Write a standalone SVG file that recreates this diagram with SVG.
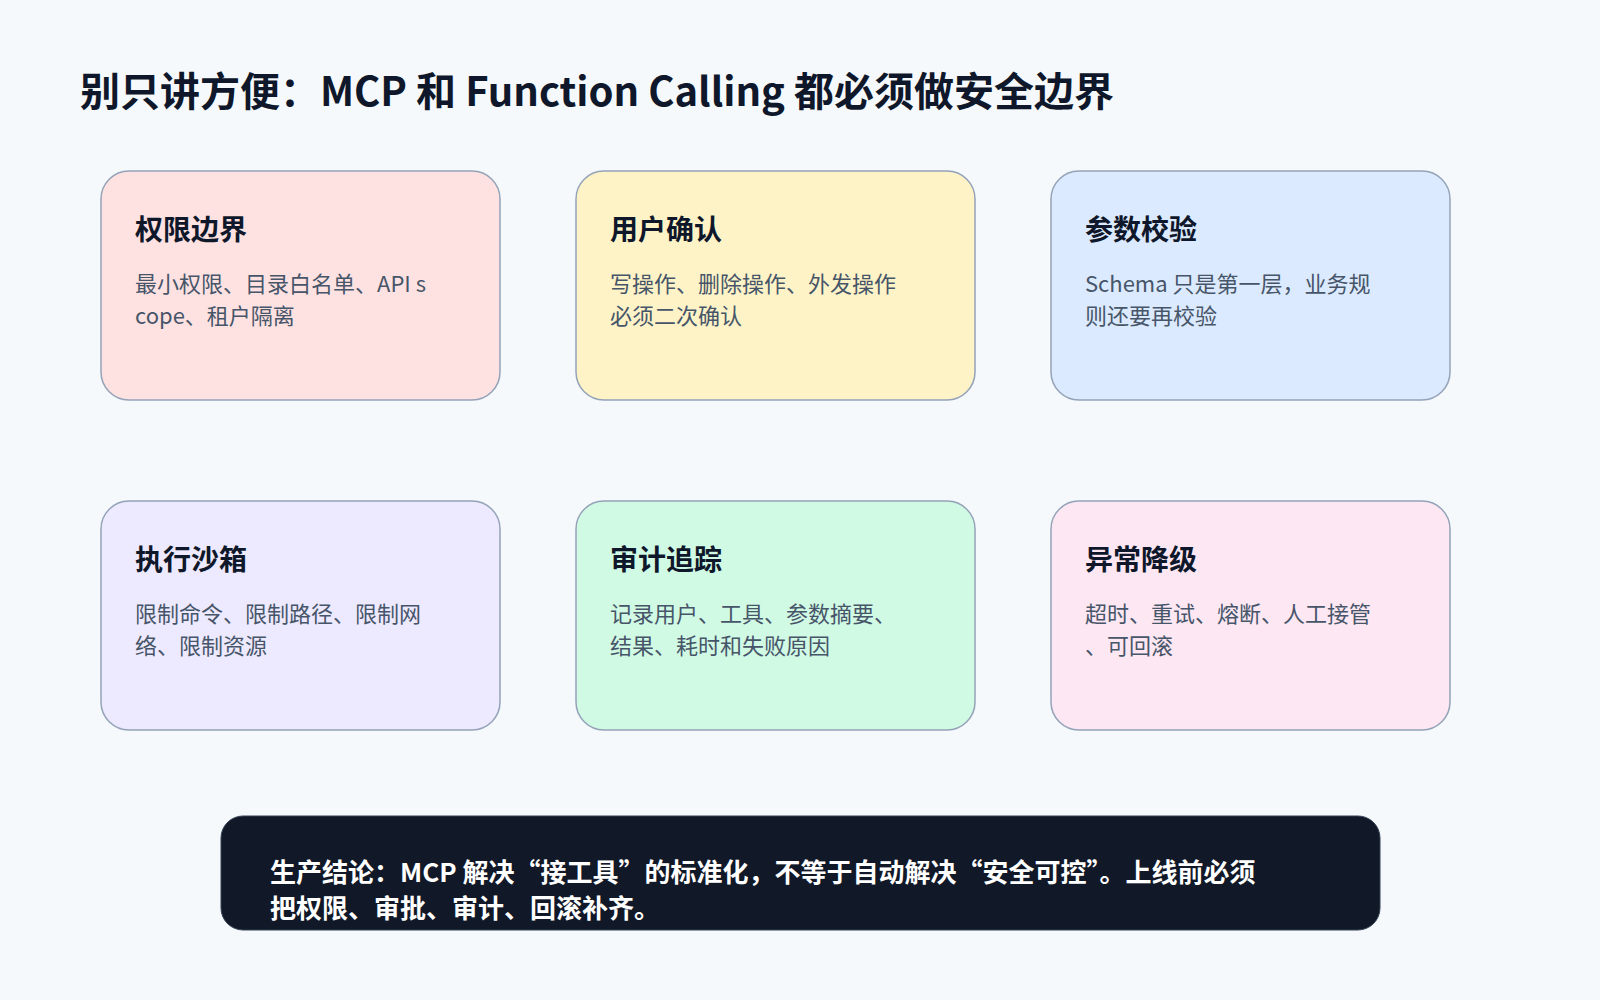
<svg xmlns="http://www.w3.org/2000/svg" width="1600" height="1000" viewBox="0 0 1600 1000">
<style>
text{font-family:"Noto Sans CJK SC","Noto Sans",sans-serif}
.card{stroke:#94a3b8;stroke-width:1.5}
.h{font-size:28px;font-weight:700;fill:#0f172a}
.b{font-size:22px;fill:#475569}
.t{font-size:40px;font-weight:700;fill:#0f172a}
.f{font-size:26px;font-weight:700;fill:#ffffff}
</style>
<rect width="1600" height="1000" fill="#f5f9fc"/>
<text class="t" x="80" y="106">别只讲方便：MCP 和 Function Calling 都必须做安全边界</text>
<g id="n1"><rect class="card" x="101" y="171" width="399" height="229" rx="28" fill="#fee2e2"/>
<text class="h" x="135" y="240">权限边界</text>
<text class="b" x="135" y="292">最小权限、目录白名单、API s</text><text class="b" x="135" y="324">cope、租户隔离</text></g>
<g id="n2"><rect class="card" x="576" y="171" width="399" height="229" rx="28" fill="#fef3c7"/>
<text class="h" x="610" y="240">用户确认</text>
<text class="b" x="610" y="292">写操作、删除操作、外发操作</text><text class="b" x="610" y="324">必须二次确认</text></g>
<g id="n3"><rect class="card" x="1051" y="171" width="399" height="229" rx="28" fill="#dbeafe"/>
<text class="h" x="1085" y="240">参数校验</text>
<text class="b" x="1085" y="292">Schema 只是第一层，业务规</text><text class="b" x="1085" y="324">则还要再校验</text></g>
<g id="n4"><rect class="card" x="101" y="501" width="399" height="229" rx="28" fill="#ede9fe"/>
<text class="h" x="135" y="570">执行沙箱</text>
<text class="b" x="135" y="622">限制命令、限制路径、限制网</text><text class="b" x="135" y="654">络、限制资源</text></g>
<g id="n5"><rect class="card" x="576" y="501" width="399" height="229" rx="28" fill="#d1fae5"/>
<text class="h" x="610" y="570">审计追踪</text>
<text class="b" x="610" y="622">记录用户、工具、参数摘要、</text><text class="b" x="610" y="654">结果、耗时和失败原因</text></g>
<g id="n6"><rect class="card" x="1051" y="501" width="399" height="229" rx="28" fill="#fce7f3"/>
<text class="h" x="1085" y="570">异常降级</text>
<text class="b" x="1085" y="622">超时、重试、熔断、人工接管</text><text class="b" x="1085" y="654">、可回滚</text></g>
<g id="summary"><rect x="221" y="816" width="1159" height="114" rx="22" fill="#111827" stroke="#334155"/>
<text class="f" x="270" y="882">生产结论：MCP 解决“接工具”的标准化，不等于自动解决“安全可控”。上线前必须</text>
<text class="f" x="270" y="918">把权限、审批、审计、回滚补齐。</text></g>
<g id="connectors"/>
</svg>
